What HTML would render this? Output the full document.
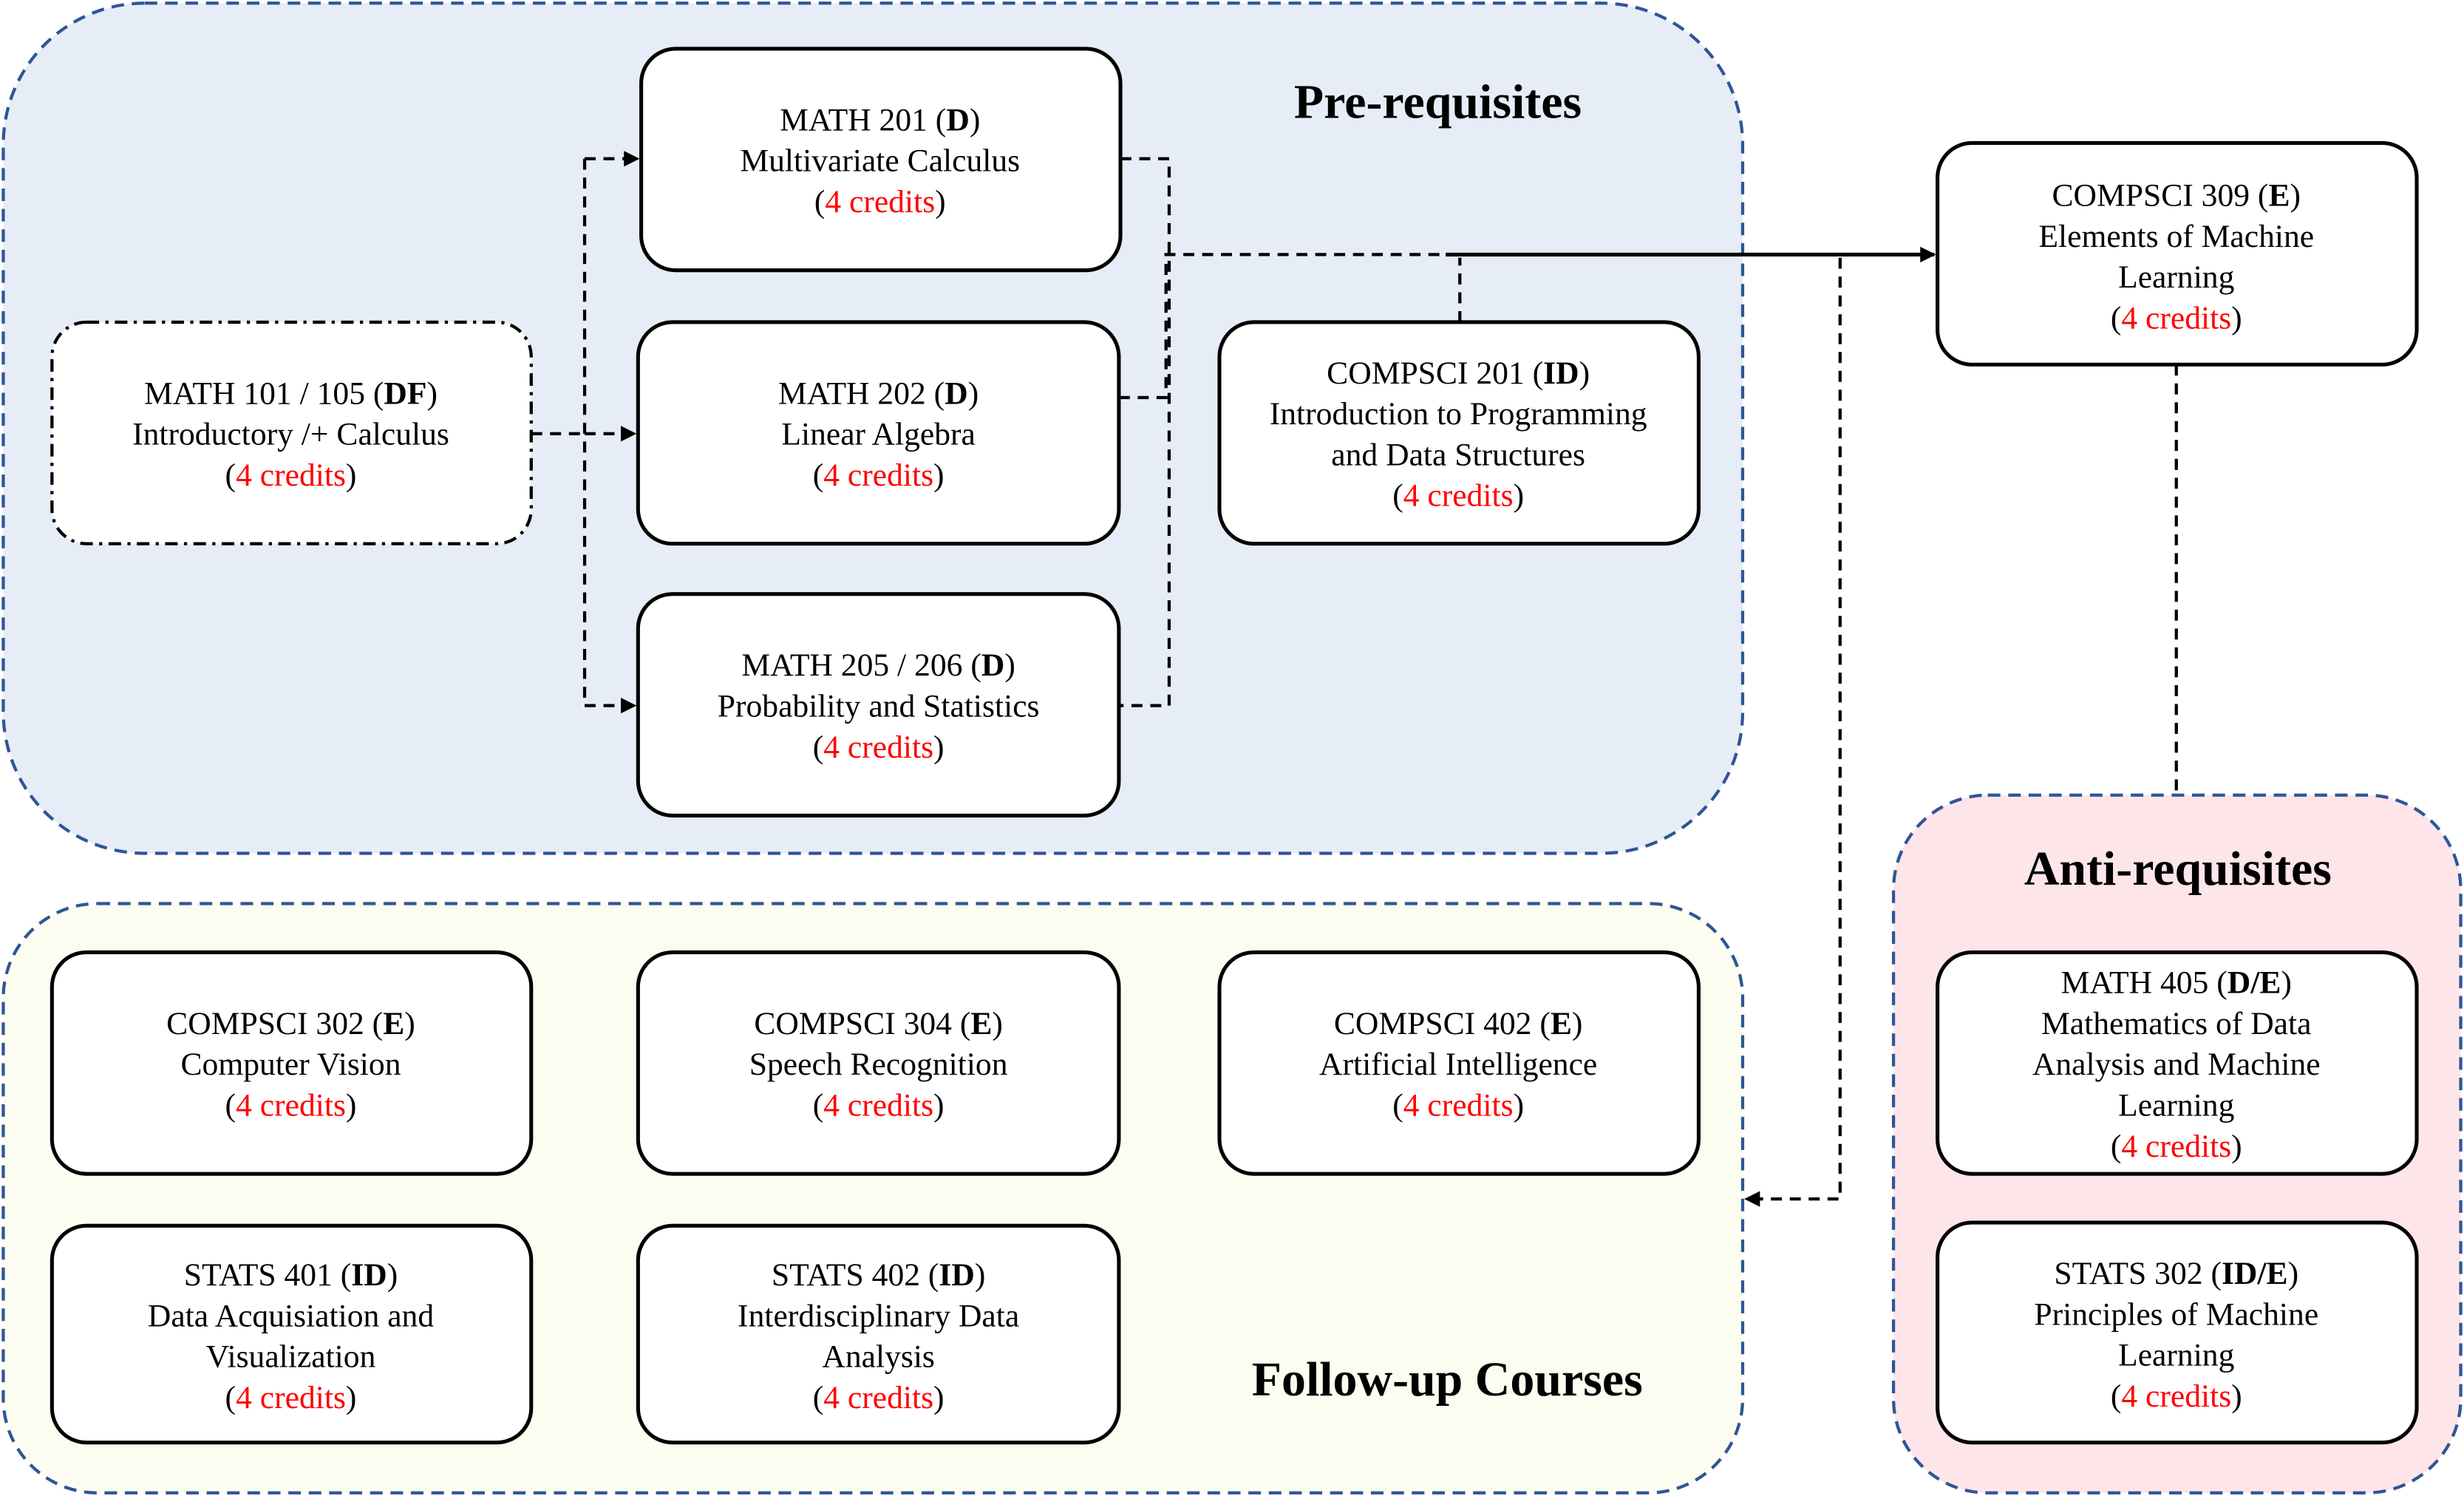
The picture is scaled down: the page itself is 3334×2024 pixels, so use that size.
<!DOCTYPE html>
<html><head><meta charset="utf-8"><style>
html,body{margin:0;padding:0;background:#fff;}
svg{display:block;font-family:'Liberation Serif','Times New Roman',serif;}
svg text{font-family:'Liberation Serif','Times New Roman',serif;}
.t{font-size:20.5px;fill:#000;text-anchor:middle;}
.r{fill:#ff0000;}
.h{font-size:31px;font-weight:bold;text-anchor:middle;}
.n{fill:#fff;stroke:#000;stroke-width:2.4;}
.c{fill:none;stroke:#000;stroke-width:2;stroke-dasharray:7,5;}
.g{stroke:#2F5597;stroke-width:2;stroke-dasharray:8,5;}
</style></head><body>
<svg width="3334" height="2024" viewBox="0 0 1568 952" xmlns="http://www.w3.org/2000/svg" font-family="Liberation Serif, serif">
<defs><marker id="a" markerWidth="10" markerHeight="10" refX="9" refY="5" orient="auto" markerUnits="userSpaceOnUse"><path d="M0,0 L10,5 L0,10 z" fill="#000"/></marker></defs>
<rect x="2" y="2" width="1107" height="541" rx="90" fill="#E6EDF7" class="g"/>
<rect x="2" y="575" width="1107" height="375" rx="60" fill="#FCFDF0" class="g"/>
<rect x="1205" y="506" width="361" height="444" rx="60" fill="#FDE5E9" class="g"/>
<text class="h" x="915" y="75" font-family="Liberation Serif, serif">Pre-requisites</text>
<text class="h" x="1386" y="563" font-family="Liberation Serif, serif">Anti-requisites</text>
<text class="h" x="921" y="888" font-family="Liberation Serif, serif">Follow-up Courses</text>
<path class="c" d="M338,276 L372,276"/>
<path class="c" d="M372,101 L372,449"/>
<path class="c" d="M372,101 L406,101" marker-end="url(#a)"/>
<path class="c" d="M372,276 L404,276" marker-end="url(#a)"/>
<path class="c" d="M372,449 L404,449" marker-end="url(#a)"/>
<path class="c" d="M713,101 L744,101 L744,449 L712,449"/>
<path class="c" d="M712,253 L742,253 L742,162 L922,162"/>
<path d="M920,162 L1231,162" stroke="#000" stroke-width="2.4" marker-end="url(#a)"/>
<path class="c" d="M929,205 L929,164"/>
<path class="c" d="M1171,164 L1171,763 L1111,763" marker-end="url(#a)"/>
<path class="c" d="M1385,232 L1385,506"/>
<rect class="n" x="408" y="31" width="305" height="141" rx="22"/>
<rect x="33" y="205" width="305" height="141" rx="22" fill="#fff" stroke="#000" stroke-width="2" stroke-dasharray="8,4,2,4"/>
<rect class="n" x="406" y="205" width="306" height="141" rx="22"/>
<rect class="n" x="406" y="378" width="306" height="141" rx="22"/>
<rect class="n" x="776" y="205" width="305" height="141" rx="22"/>
<rect class="n" x="1233" y="91" width="305" height="141" rx="22"/>
<rect class="n" x="33" y="606" width="305" height="141" rx="22"/>
<rect class="n" x="406" y="606" width="306" height="141" rx="22"/>
<rect class="n" x="776" y="606" width="305" height="141" rx="22"/>
<rect class="n" x="33" y="780" width="305" height="138" rx="22"/>
<rect class="n" x="406" y="780" width="306" height="138" rx="22"/>
<rect class="n" x="1233" y="606" width="305" height="141" rx="22"/>
<rect class="n" x="1233" y="778" width="305" height="140" rx="22"/>
<g font-family="Liberation Serif, serif">
<text class="t" x="560" y="83">MATH 201 (<tspan font-weight="bold">D</tspan>)</text>
<text class="t" x="560" y="109">Multivariate Calculus</text>
<text class="t" x="560" y="135">(<tspan class="r">4 credits</tspan>)</text>
<text class="t" x="185" y="257">MATH 101 / 105 (<tspan font-weight="bold">DF</tspan>)</text>
<text class="t" x="185" y="283">Introductory /+ Calculus</text>
<text class="t" x="185" y="309">(<tspan class="r">4 credits</tspan>)</text>
<text class="t" x="559" y="257">MATH 202 (<tspan font-weight="bold">D</tspan>)</text>
<text class="t" x="559" y="283">Linear Algebra</text>
<text class="t" x="559" y="309">(<tspan class="r">4 credits</tspan>)</text>
<text class="t" x="559" y="430">MATH 205 / 206 (<tspan font-weight="bold">D</tspan>)</text>
<text class="t" x="559" y="456">Probability and Statistics</text>
<text class="t" x="559" y="482">(<tspan class="r">4 credits</tspan>)</text>
<text class="t" x="928" y="244">COMPSCI 201 (<tspan font-weight="bold">ID</tspan>)</text>
<text class="t" x="928" y="270">Introduction to Programming</text>
<text class="t" x="928" y="296">and Data Structures</text>
<text class="t" x="928" y="322">(<tspan class="r">4 credits</tspan>)</text>
<text class="t" x="1385" y="131">COMPSCI 309 (<tspan font-weight="bold">E</tspan>)</text>
<text class="t" x="1385" y="157">Elements of Machine</text>
<text class="t" x="1385" y="183">Learning</text>
<text class="t" x="1385" y="209">(<tspan class="r">4 credits</tspan>)</text>
<text class="t" x="185" y="658">COMPSCI 302 (<tspan font-weight="bold">E</tspan>)</text>
<text class="t" x="185" y="684">Computer Vision</text>
<text class="t" x="185" y="710">(<tspan class="r">4 credits</tspan>)</text>
<text class="t" x="559" y="658">COMPSCI 304 (<tspan font-weight="bold">E</tspan>)</text>
<text class="t" x="559" y="684">Speech Recognition</text>
<text class="t" x="559" y="710">(<tspan class="r">4 credits</tspan>)</text>
<text class="t" x="928" y="658">COMPSCI 402 (<tspan font-weight="bold">E</tspan>)</text>
<text class="t" x="928" y="684">Artificial Intelligence</text>
<text class="t" x="928" y="710">(<tspan class="r">4 credits</tspan>)</text>
<text class="t" x="185" y="818">STATS 401 (<tspan font-weight="bold">ID</tspan>)</text>
<text class="t" x="185" y="844">Data Acquisiation and</text>
<text class="t" x="185" y="870">Visualization</text>
<text class="t" x="185" y="896">(<tspan class="r">4 credits</tspan>)</text>
<text class="t" x="559" y="818">STATS 402 (<tspan font-weight="bold">ID</tspan>)</text>
<text class="t" x="559" y="844">Interdisciplinary Data</text>
<text class="t" x="559" y="870">Analysis</text>
<text class="t" x="559" y="896">(<tspan class="r">4 credits</tspan>)</text>
<text class="t" x="1385" y="632">MATH 405 (<tspan font-weight="bold">D/E</tspan>)</text>
<text class="t" x="1385" y="658">Mathematics of Data</text>
<text class="t" x="1385" y="684">Analysis and Machine</text>
<text class="t" x="1385" y="710">Learning</text>
<text class="t" x="1385" y="736">(<tspan class="r">4 credits</tspan>)</text>
<text class="t" x="1385" y="817">STATS 302 (<tspan font-weight="bold">ID/E</tspan>)</text>
<text class="t" x="1385" y="843">Principles of Machine</text>
<text class="t" x="1385" y="869">Learning</text>
<text class="t" x="1385" y="895">(<tspan class="r">4 credits</tspan>)</text>
</g>
</svg>
</body></html>
